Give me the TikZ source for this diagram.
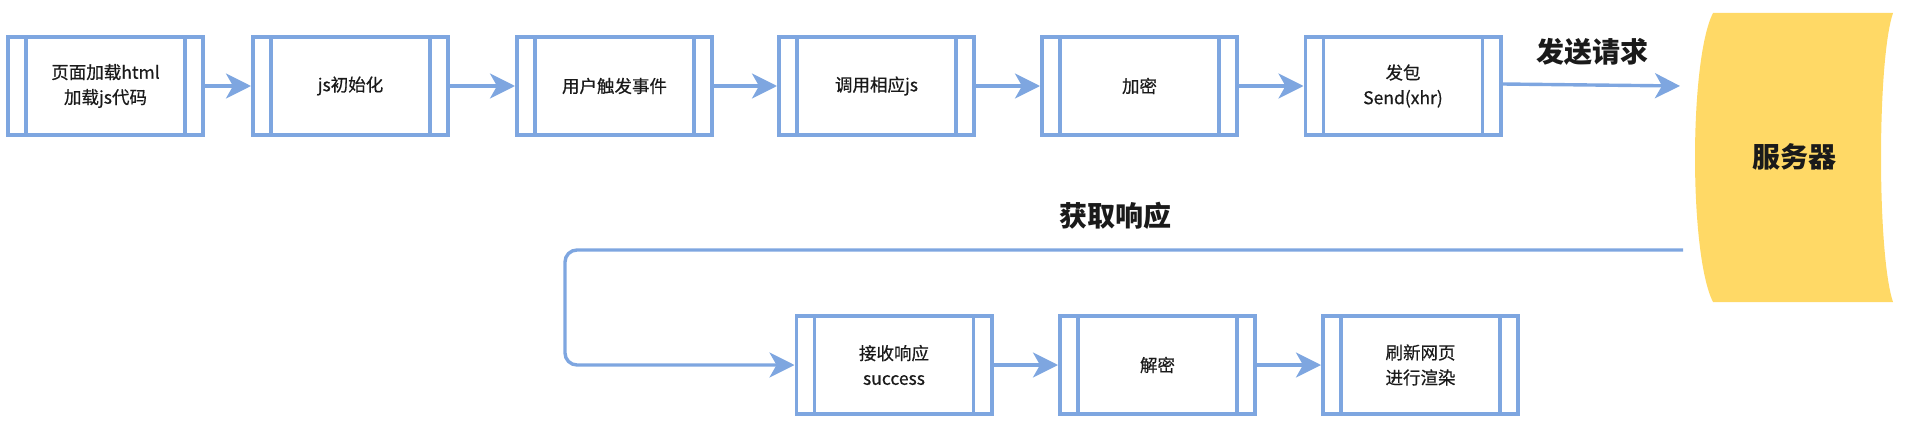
\documentclass[tikz,border=0pt]{standalone}
\usepackage{fontspec}
\setmainfont{Noto Sans CJK SC}
\newfontfamily\boxfont{Noto Sans CJK SC}[FakeBold=0.6]
\usetikzlibrary{arrows.meta}
\definecolor{bl}{HTML}{7EA6E0}
\definecolor{srvfill}{HTML}{FFD966}
\definecolor{txt}{HTML}{1A1A1A}
\begin{document}
\begin{tikzpicture}[x=1pt,y=-1pt,
  proc/.style={draw=bl, line width=3.6pt, minimum width=195.4pt, minimum height=98.4pt,
    inner sep=0pt, align=center, text=txt, font=\boxfont\fontsize{17.5}{25}\selectfont,
    path picture={\draw[bl, line width=3.6pt]
      ([xshift=18.2pt]path picture bounding box.north west) -- ([xshift=18.2pt]path picture bounding box.south west)
      ([xshift=-18.2pt]path picture bounding box.north east) -- ([xshift=-18.2pt]path picture bounding box.south east);}},
  conn/.style={draw=bl, line width=3.4pt, -{Stealth[length=25pt,width=25pt,inset=7pt,fill=bl]}},
  lbl/.style={text=txt, font=\fontsize{28}{30}\selectfont\bfseries, inner sep=0pt}]
\useasboundingbox (0,0) rectangle (1905,428);
% top row
\node[proc] (b1) at (105.5,86) {页面加载html\\加载js代码};
\node[proc] (b2) at (350.5,86) {js初始化};
\node[proc] (b3) at (614.5,86) {用户触发事件};
\node[proc] (b4) at (876.5,86) {调用相应js};
\node[proc] (b5) at (1139.5,86) {加密};
\node[proc] (b6) at (1403,86) {发包\\Send(xhr)};
% bottom row
\node[proc] (b7) at (894,365) {接收响应\\success};
\node[proc] (b8) at (1157.5,365) {解密};
\node[proc] (b9) at (1420.5,365) {刷新网页\\进行渲染};
% server
\fill[srvfill] (1713,13) -- (1893,13) .. controls (1877,60) and (1877,255) .. (1893,302)
  -- (1713,302) .. controls (1689,255) and (1689,60) .. (1713,13) -- cycle;
\node[lbl] (srv) at (1794,157) {服务器};
\coordinate (srvin) at (1680,86);
\coordinate (srvout) at (1683,250);
\coordinate (turn) at (565,250);
% connectors
\draw[conn] (b1) -- (b2);
\draw[conn] (b2) -- (b3);
\draw[conn] (b3) -- (b4);
\draw[conn] (b4) -- (b5);
\draw[conn] (b5) -- (b6);
\draw[conn] ([yshift=2pt]b6.east) -- (srvin);
\draw[conn, rounded corners=12pt] (srvout) -- (turn) |- (b7.west);
\draw[conn] (b7) -- (b8);
\draw[conn] (b8) -- (b9);
% labels
\node[lbl] (l1) at (1592,52) {发送请求};
\node[lbl] (l2) at (1115,216) {获取响应};
\end{tikzpicture}
\end{document}
